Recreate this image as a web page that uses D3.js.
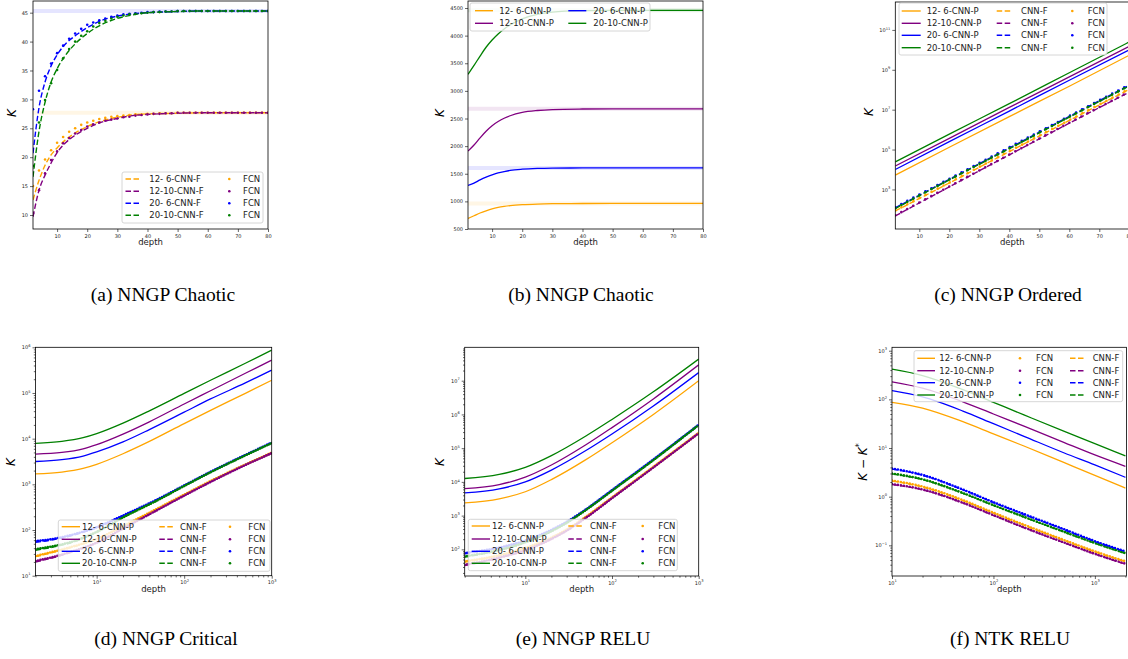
<!DOCTYPE html>
<html>
<head>
<meta charset="utf-8">
<script src="https://cdn.jsdelivr.net/npm/d3@7"></script>
<style>
  body { margin: 0; background: #fff; }
  svg { font-family: "DejaVu Sans", sans-serif; }
</style>
</head>
<body>
<div id="chart"></div>
<script>
// ---------- data ----------
const seriesNames = ["12- 6", "12-10", "20- 6", "20-10"];
const seriesColors = ["#ffa500", "#800080", "#0000ff", "#008000"];

// (a) NNGP chaotic, CNN-F dashed + FCN dots
const depthA = [2, 4, 6, 8, 10, 13, 16, 20, 25, 30, 35, 40, 50, 60, 80];
const aCnnF = [
  [12.6, 16.0, 18.6, 20.4, 21.6, 23.1, 24.2, 25.3, 26.3, 26.9, 27.3, 27.5, 27.6, 27.7, 27.7],
  [9.7, 14.3, 16.9, 19.0, 20.8, 22.6, 23.8, 25.0, 26.1, 26.7, 27.2, 27.4, 27.6, 27.7, 27.7],
  [20.7, 28.6, 33.0, 35.8, 37.7, 39.7, 41.0, 42.4, 43.7, 44.4, 44.8, 45.0, 45.2, 45.3, 45.3],
  [16.6, 24.5, 29.5, 33.0, 35.3, 37.8, 39.6, 41.4, 43.0, 44.0, 44.6, 45.0, 45.2, 45.3, 45.3]
];
const depthAFcn = d3.range(2, 81, 2);
const aFcn = [
  [15.0, 17.7, 19.6, 21.2, 22.5, 23.5, 24.4, 25.0, 25.6, 26.0, 26.3, 26.6, 26.8, 27.0, 27.1, 27.2, 27.3, 27.4, 27.4, 27.5,
   27.5, 27.6, 27.6, 27.6, 27.7, 27.7, 27.7, 27.7, 27.7, 27.7, 27.7, 27.7, 27.7, 27.7, 27.7, 27.7, 27.7, 27.7, 27.7, 27.7],
  [10.3, 14.3, 17.2, 19.5, 21.0, 22.4, 23.3, 24.1, 24.7, 25.3, 25.7, 26.0, 26.3, 26.5, 26.7, 26.9, 27.0, 27.2, 27.3, 27.4,
   27.5, 27.5, 27.6, 27.6, 27.7, 27.7, 27.7, 27.7, 27.7, 27.7, 27.7, 27.7, 27.7, 27.7, 27.7, 27.7, 27.7, 27.7, 27.7, 27.7],
  [28.3, 31.5, 34.0, 36.2, 38.0, 39.3, 40.5, 41.4, 42.2, 42.9, 43.3, 43.7, 44.0, 44.3, 44.5, 44.7, 44.8, 44.9, 45.0, 45.1,
   45.1, 45.2, 45.2, 45.2, 45.3, 45.3, 45.3, 45.3, 45.3, 45.3, 45.3, 45.3, 45.3, 45.3, 45.3, 45.3, 45.3, 45.3, 45.3, 45.3],
  [18.5, 26.0, 29.9, 32.8, 35.1, 37.1, 38.7, 40.0, 41.0, 41.8, 42.6, 43.2, 43.6, 44.0, 44.3, 44.5, 44.7, 44.8, 44.9, 45.0,
   45.1, 45.1, 45.2, 45.2, 45.3, 45.3, 45.3, 45.3, 45.3, 45.3, 45.3, 45.3, 45.3, 45.3, 45.3, 45.3, 45.3, 45.3, 45.3, 45.3]
];
// fixed points (null = not drawn)
const aFixed = [27.7, null, 45.3, null];

// (b) NNGP chaotic, CNN-P
const depthB = [2, 4, 6, 8, 10, 12, 14, 16, 20, 25, 30, 40, 50, 80];
const bCnnP = [
  [690, 740, 790, 830, 865, 890, 908, 922, 940, 952, 958, 962, 963, 963],
  [1910, 2020, 2150, 2270, 2370, 2445, 2505, 2550, 2610, 2645, 2662, 2672, 2675, 2675],
  [1290, 1330, 1390, 1440, 1480, 1515, 1540, 1560, 1582, 1596, 1602, 1605, 1605, 1605],
  [3300, 3460, 3630, 3790, 3920, 4030, 4120, 4195, 4305, 4385, 4425, 4452, 4458, 4458]
];
const bFixed = [963, 2675, 1605, 4458];

// (c) NNGP ordered
const depthC = [2, 20, 40, 60, 80];
const cCnnP = [
  [5.2e3, 1.3e5, 4.5e6, 1.5e8, 5.4e9],
  [1.5e4, 3.6e5, 1.3e7, 4.4e8, 1.5e10],
  [1.0e4, 2.5e5, 8.5e6, 3.0e8, 1.0e10],
  [2.4e4, 5.9e5, 2.0e7, 7.1e8, 2.5e10]
];
const cCnnF = [
  [83, 2.1e3, 7.9e4, 2.9e6, 1.05e8],
  [47, 1.35e3, 5.4e4, 2.1e6, 7.6e7],
  [120, 3.2e3, 1.2e5, 4.6e6, 1.7e8],
  [110, 3.0e3, 1.1e5, 4.2e6, 1.55e8]
];
const cFcn = [
  [88, 2.2e3, 8.2e4, 3.0e6, 1.1e8],
  [50, 1.4e3, 5.6e4, 2.2e6, 7.9e7],
  [130, 3.4e3, 1.3e5, 4.8e6, 1.8e8],
  [115, 3.1e3, 1.15e5, 4.4e6, 1.6e8]
];

// (d) NNGP critical
const depthDP = [2, 4, 7, 10, 20, 40, 100, 200, 500, 1000];
const dCnnP = [
  [1.7e3, 1.86e3, 2.24e3, 2.75e3, 4.68e3, 8.7e3, 2.14e4, 4.17e4, 9.8e4, 1.9e5],
  [4.6e3, 5.0e3, 6.0e3, 7.4e3, 1.26e4, 2.34e4, 5.75e4, 1.12e5, 2.7e5, 5.25e5],
  [3.16e3, 3.47e3, 4.17e3, 5.13e3, 8.5e3, 1.58e4, 3.8e4, 7.4e4, 1.66e5, 3.16e5],
  [7.9e3, 8.7e3, 1.05e4, 1.29e4, 2.19e4, 4.07e4, 9.8e4, 1.9e5, 4.47e5, 8.7e5]
];
const depthDF = [2, 3.5, 5, 10, 20, 50, 100, 200, 500, 1000];
const dCnnF = [
  [26, 34, 41, 63, 120, 295, 589, 1.17e3, 2.69e3, 4.9e3],
  [20, 26, 32, 52, 107, 275, 562, 1.12e3, 2.63e3, 4.79e3],
  [54, 63, 74, 112, 204, 468, 933, 1.86e3, 4.37e3, 8.13e3],
  [36, 44, 52, 89, 186, 447, 912, 1.82e3, 4.27e3, 7.94e3]
];
const dFcn = [
  [27, 35, 42, 64, 122, 298, 595, 1.18e3, 2.71e3, 4.95e3],
  [21, 27, 33, 53, 108, 278, 566, 1.13e3, 2.65e3, 4.82e3],
  [57, 66, 77, 115, 208, 475, 945, 1.88e3, 4.4e3, 8.2e3],
  [38, 46, 54, 91, 189, 452, 920, 1.84e3, 4.3e3, 8.0e3]
];

// (e) NNGP RELU
const depthEP = [2, 5, 10, 20, 50, 100, 300, 1000];
const eCnnP = [
  [2.4e3, 3.16e3, 5.1e3, 1.17e4, 4.57e4, 1.45e5, 1.0e6, 1.0e7],
  [6.3e3, 8.3e3, 1.38e4, 3.16e4, 1.26e5, 4.07e5, 2.88e6, 2.95e7],
  [4.7e3, 6.2e3, 1.0e4, 2.24e4, 8.5e4, 2.63e5, 1.78e6, 1.74e7],
  [1.26e4, 1.66e4, 2.69e4, 6.0e4, 2.29e5, 7.1e5, 4.68e6, 4.37e7]
];
const depthEF = [2, 5, 10, 20, 30, 50, 100, 300, 1000];
const eCnnF = [
  [42, 65, 107, 219, 380, 912, 3.39e3, 2.75e4, 2.8e5],
  [33, 55, 93, 200, 355, 851, 3.24e3, 2.63e4, 2.75e5],
  [74, 110, 178, 372, 646, 1.51e3, 5.6e3, 4.57e4, 4.9e5],
  [59, 93, 158, 339, 603, 1.45e3, 5.4e3, 4.37e4, 4.8e5]
];
const eFcn = [
  [44, 67, 110, 223, 385, 925, 3.44e3, 2.78e4, 2.82e5],
  [35, 57, 95, 204, 360, 862, 3.28e3, 2.66e4, 2.77e5],
  [78, 113, 182, 378, 655, 1.53e3, 5.7e3, 4.62e4, 4.95e5],
  [62, 96, 162, 345, 610, 1.47e3, 5.46e3, 4.42e4, 4.85e5]
];

// (f) NTK RELU
const depthF = [10, 20, 50, 100, 200, 500, 1000, 2000];
const fCnnP = [
  [87, 66, 34.7, 19.5, 11.0, 5.0, 2.75, 1.5],
  [229, 170, 89, 50, 28.2, 12.9, 7.2, 4.2],
  [151, 112, 57.5, 31.6, 17.4, 7.9, 4.5, 2.5],
  [417, 309, 158, 87, 47.9, 21.9, 12.3, 6.9]
];
const fCnnF = [
  [2.1, 1.58, 0.83, 0.46, 0.26, 0.126, 0.074, 0.046],
  [1.78, 1.38, 0.74, 0.41, 0.23, 0.112, 0.066, 0.041],
  [3.7, 2.75, 1.38, 0.76, 0.43, 0.21, 0.12, 0.074],
  [2.95, 2.24, 1.17, 0.66, 0.38, 0.186, 0.11, 0.068]
];
const fFcn = [
  [2.15, 1.62, 0.85, 0.47, 0.265, 0.128, 0.075, 0.047],
  [1.82, 1.41, 0.75, 0.42, 0.234, 0.114, 0.067, 0.042],
  [3.8, 2.8, 1.4, 0.77, 0.44, 0.213, 0.122, 0.075],
  [3.0, 2.28, 1.19, 0.67, 0.386, 0.189, 0.112, 0.069]
];

// ---------- drawing ----------
const svg = d3.select("#chart").append("svg")
  .attr("width", 1128).attr("height", 659);

const supDigits = n => String(n).replace("-", "\u2212");

function logMinors(dom) {
  const minors = [];
  const lo = Math.floor(Math.log10(dom[0])), hi = Math.ceil(Math.log10(dom[1]));
  for (let e = lo; e <= hi; e++) for (let k = 2; k <= 9; k++) {
    const v = k * Math.pow(10, e);
    if (v >= dom[0] && v <= dom[1]) minors.push(v);
  }
  return minors;
}

function panel(cfg) {
  const x = (cfg.xlog ? d3.scaleLog() : d3.scaleLinear()).domain(cfg.xdom).range([cfg.l, cfg.r]);
  const y = (cfg.ylog ? d3.scaleLog() : d3.scaleLinear()).domain(cfg.ydom).range([cfg.b, cfg.t]);
  const g = svg.append("g");

  g.append("clipPath").attr("id", "clip-" + cfg.id)
    .append("rect")
    .attr("x", cfg.l).attr("y", cfg.t)
    .attr("width", cfg.r - cfg.l).attr("height", cfg.b - cfg.t);
  const plot = g.append("g").attr("clip-path", `url(#clip-${cfg.id})`);

  const line = d3.line().x(d => x(d[0])).y(d => y(d[1])).curve(d3.curveMonotoneX);

  // faint fixed-point lines
  (cfg.fixed || []).forEach((v, i) => {
    if (v == null) return;
    plot.append("line")
      .attr("x1", cfg.l).attr("x2", cfg.r)
      .attr("y1", y(v)).attr("y2", y(v))
      .attr("stroke", seriesColors[i]).attr("stroke-width", 4)
      .attr("stroke-opacity", 0.1);
  });

  cfg.layers.forEach(layer => {
    layer.vals.forEach((vals, i) => {
      const pts = layer.xs.map((d, j) => [d, vals[j]]);
      if (layer.style === "dots") {
        plot.selectAll(null).data(pts).join("circle")
          .attr("cx", d => x(d[0])).attr("cy", d => y(d[1]))
          .attr("r", 1.3).attr("fill", seriesColors[i]);
        return;
      }
      const p = plot.append("path").datum(pts)
        .attr("d", line).attr("fill", "none")
        .attr("stroke", seriesColors[i]);
      if (layer.style === "solid") p.attr("stroke-width", 1.3);
      if (layer.style === "dash") p.attr("stroke-width", 1.4).attr("stroke-dasharray", "5.5,2.5");
      if (layer.style === "dotline") p.attr("stroke-width", 2.6)
        .attr("stroke-linecap", "round").attr("stroke-dasharray", `0,${layer.gap}`);
    });
  });

  // axes
  const fmtLog = function (sel) {
    sel.selectAll(".tick text").each(function (d) {
      const t = d3.select(this);
      const e = Math.round(Math.log10(d));
      t.text("10");
      t.append("tspan").attr("dy", -2.4).attr("font-size", 3.6).text(supDigits(e));
    });
  };
  const styleAxis = sel => {
    sel.select(".domain").remove();
    sel.selectAll(".tick line").attr("stroke", "#000").attr("stroke-width", 0.6);
    sel.selectAll(".tick text").attr("font-size", 5).attr("fill", "#222")
      .attr("font-family", "DejaVu Sans");
  };

  const xa = d3.axisBottom(x).tickValues(cfg.xticks).tickSize(3).tickPadding(2)
    .tickFormat(cfg.xlog ? d => d : d3.format("d"));
  const gx = g.append("g").attr("transform", `translate(0,${cfg.b})`).call(xa).call(styleAxis);
  if (cfg.xlog) {
    gx.call(fmtLog);
    g.append("g").attr("transform", `translate(0,${cfg.b})`)
      .call(d3.axisBottom(x).tickValues(logMinors(cfg.xdom)).tickSize(1.7).tickFormat(""))
      .call(styleAxis);
  }

  const ya = d3.axisLeft(y).tickValues(cfg.yticks).tickSize(3).tickPadding(2)
    .tickFormat(cfg.ylog ? d => d : d3.format("d"));
  const gy = g.append("g").attr("transform", `translate(${cfg.l},0)`).call(ya).call(styleAxis);
  if (cfg.ylog) {
    gy.call(fmtLog);
    if (cfg.yminor) {
      g.append("g").attr("transform", `translate(${cfg.l},0)`)
        .call(d3.axisLeft(y).tickValues(logMinors(cfg.ydom)).tickSize(1.7).tickFormat(""))
        .call(styleAxis);
    }
  }

  // frame
  g.append("rect")
    .attr("x", cfg.l).attr("y", cfg.t)
    .attr("width", cfg.r - cfg.l).attr("height", cfg.b - cfg.t)
    .attr("fill", "none").attr("stroke", "#000").attr("stroke-width", 0.8);

  // labels
  g.append("text")
    .attr("x", (cfg.l + cfg.r) / 2).attr("y", cfg.b + 16)
    .attr("text-anchor", "middle").attr("font-size", 8.5).attr("fill", "#222")
    .text("depth");
  const yl = g.append("text")
    .attr("transform", `translate(${cfg.ylx},${cfg.yly}) rotate(-90)`)
    .attr("text-anchor", "middle").attr("font-size", 12).attr("font-style", "italic");
  if (cfg.ydiff) {
    yl.append("tspan").text("K \u2212 K");
    yl.append("tspan").attr("dy", -5).attr("font-size", 8).attr("font-style", "normal").text("*");
  } else {
    yl.text("K");
  }

  // caption
  svg.append("text")
    .attr("x", cfg.capX).attr("y", cfg.capY)
    .attr("text-anchor", "middle")
    .attr("font-family", "Liberation Serif, Times New Roman, serif")
    .attr("font-size", 19.5)
    .text(cfg.caption);

  if (cfg.legend) legend(cfg.legend);
}

function legend(lg) {
  const g = svg.append("g");
  g.append("rect")
    .attr("x", lg.x).attr("y", lg.y).attr("width", lg.w).attr("height", lg.h)
    .attr("rx", 2).attr("fill", "#fff").attr("fill-opacity", 0.8)
    .attr("stroke", "#ccc").attr("stroke-width", 0.8);
  lg.cols.forEach(col => {
    col.labels.forEach((lab, i) => {
      const yy = lg.rows[i];
      const c = seriesColors[col.colorIdx[i]];
      if (col.style === "dots") {
        g.append("circle").attr("cx", col.hx).attr("cy", yy).attr("r", 1.3).attr("fill", c);
      } else {
        const ln = g.append("line")
          .attr("x1", col.hx).attr("x2", col.hx + col.hw)
          .attr("y1", yy).attr("y2", yy)
          .attr("stroke", c).attr("stroke-width", 1.4);
        if (col.style === "dash") ln.attr("stroke-dasharray", "5.5,2.5");
      }
      g.append("text")
        .attr("x", col.tx).attr("y", yy).attr("dy", "0.35em")
        .attr("font-size", 8.5).attr("fill", "#222")
        .text(lab);
    });
  });
}

const idx = [0, 1, 2, 3];
const labP = seriesNames.map(s => s + "-CNN-P");
const labF = seriesNames.map(s => s + "-CNN-F");
const justF = idx.map(() => "CNN-F");
const justFcn = idx.map(() => "FCN");

// (a)
panel({
  id: "a", l: 33, r: 268, t: 1, b: 229,
  xdom: [2, 80], ydom: [7.58, 47.02],
  xticks: [10, 20, 30, 40, 50, 60, 70, 80], yticks: [10, 15, 20, 25, 30, 35, 40, 45],
  fixed: aFixed,
  layers: [
    { xs: depthA, vals: aCnnF, style: "dash" },
    { xs: depthAFcn, vals: aFcn, style: "dots" }
  ],
  ylx: 16, yly: 113, capX: 163, capY: 301, caption: "(a) NNGP Chaotic",
  legend: {
    x: 122, y: 172, w: 141, h: 51, rows: [179, 191.3, 203.3, 215.3],
    cols: [
      { style: "dash", hx: 125.5, hw: 16, tx: 149.3, labels: labF, colorIdx: idx },
      { style: "dots", hx: 229.3, tx: 243, labels: justFcn, colorIdx: idx }
    ]
  }
});

// (b)
panel({
  id: "b", l: 468, r: 703, t: 1, b: 229,
  xdom: [2, 80], ydom: [500, 4627],
  xticks: [10, 20, 30, 40, 50, 60, 70, 80],
  yticks: [500, 1000, 1500, 2000, 2500, 3000, 3500, 4000, 4500],
  fixed: bFixed,
  layers: [{ xs: depthB, vals: bCnnP, style: "solid" }],
  ylx: 444, yly: 113, capX: 581, capY: 301, caption: "(b) NNGP Chaotic",
  legend: {
    x: 470, y: 3, w: 180, h: 28, rows: [10.7, 23.3],
    cols: [
      { style: "solid", hx: 475, hw: 18, tx: 499.3, labels: [labP[0], labP[1]], colorIdx: [0, 1] },
      { style: "solid", hx: 568.3, hw: 18, tx: 593.3, labels: [labP[2], labP[3]], colorIdx: [2, 3] }
    ]
  }
});

// (c)
panel({
  id: "c", l: 895.3, r: 1129.3, t: 2, b: 229,
  xdom: [2, 80], ylog: true, ydom: [Math.pow(10, 1.015), Math.pow(10, 12.4)],
  xticks: [10, 20, 30, 40, 50, 60, 70, 80], yticks: [1e3, 1e5, 1e7, 1e9, 1e11],
  layers: [
    { xs: depthC, vals: cCnnP, style: "solid" },
    { xs: depthC, vals: cCnnF, style: "dash" },
    { xs: depthC, vals: cFcn, style: "dotline", gap: 6.8 }
  ],
  ylx: 873, yly: 112, capX: 1008, capY: 301, caption: "(c) NNGP Ordered",
  legend: {
    x: 899, y: 3, w: 208, h: 52, rows: [11, 23.3, 35.3, 47.7],
    cols: [
      { style: "solid", hx: 901.7, hw: 19, tx: 926.7, labels: labP, colorIdx: idx },
      { style: "dash", hx: 996.7, hw: 15, tx: 1021, labels: justF, colorIdx: idx },
      { style: "dots", hx: 1072.3, tx: 1087.7, labels: justFcn, colorIdx: idx }
    ]
  }
});

// (d)
panel({
  id: "d", l: 35.5, r: 271.7, t: 347.3, b: 575.7,
  xlog: true, xdom: [2, 1000], ylog: true, ydom: [10, 1e6], yminor: true,
  xticks: [10, 100, 1000], yticks: [10, 100, 1e3, 1e4, 1e5, 1e6],
  layers: [
    { xs: depthDP, vals: dCnnP, style: "solid" },
    { xs: depthDF, vals: dCnnF, style: "dash" },
    { xs: depthDF, vals: dFcn, style: "dotline", gap: 2.5 }
  ],
  ylx: 15, yly: 462, capX: 166, capY: 645, caption: "(d) NNGP Critical",
  legend: {
    x: 58.3, y: 520, w: 211.7, h: 51.3, rows: [526.7, 539.3, 551.3, 563.3],
    cols: [
      { style: "solid", hx: 61.7, hw: 18.3, tx: 82, labels: labP, colorIdx: idx },
      { style: "dash", hx: 159.3, hw: 15.7, tx: 180, labels: justF, colorIdx: idx },
      { style: "dots", hx: 230, tx: 248.3, labels: justFcn, colorIdx: idx }
    ]
  }
});

// (e)
panel({
  id: "e", l: 464.7, r: 698.7, t: 347.3, b: 576,
  xlog: true, xdom: [2, 1000], ylog: true, ydom: [Math.pow(10, 1.21), Math.pow(10, 7.99)], yminor: true,
  xticks: [10, 100, 1000], yticks: [100, 1e3, 1e4, 1e5, 1e6, 1e7],
  layers: [
    { xs: depthEP, vals: eCnnP, style: "solid" },
    { xs: depthEF, vals: eCnnF, style: "dash" },
    { xs: depthEF, vals: eFcn, style: "dotline", gap: 2.5 }
  ],
  ylx: 444, yly: 462, capX: 583, capY: 645, caption: "(e) NNGP RELU",
  legend: {
    x: 468.3, y: 519.3, w: 209, h: 51.4, rows: [526, 539, 551.3, 563.3],
    cols: [
      { style: "solid", hx: 471.7, hw: 18.3, tx: 492, labels: labP, colorIdx: idx },
      { style: "dash", hx: 568.3, hw: 15, tx: 590, labels: justF, colorIdx: idx },
      { style: "dots", hx: 642.7, tx: 658.3, labels: justFcn, colorIdx: idx }
    ]
  }
});

// (f)
panel({
  id: "f", l: 892, r: 1126.5, t: 347.3, b: 576,
  xlog: true, xdom: [10, 2050], ylog: true, ydom: [Math.pow(10, -1.63), Math.pow(10, 3.07)], yminor: true,
  xticks: [10, 100, 1000], yticks: [0.1, 1, 10, 100, 1000],
  layers: [
    { xs: depthF, vals: fCnnP, style: "solid" },
    { xs: depthF, vals: fFcn, style: "dotline", gap: 3 },
    { xs: depthF, vals: fCnnF, style: "dash" }
  ],
  ydiff: true, ylx: 867, yly: 462, capX: 1010, capY: 645, caption: "(f) NTK RELU",
  legend: {
    x: 914, y: 350.7, w: 208.7, h: 51, rows: [358.3, 370.7, 382.7, 395],
    cols: [
      { style: "solid", hx: 917.3, hw: 17.7, tx: 939.3, labels: labP, colorIdx: idx },
      { style: "dots", hx: 1020, tx: 1036, labels: justFcn, colorIdx: idx },
      { style: "dash", hx: 1070, hw: 15, tx: 1092.7, labels: justF, colorIdx: idx }
    ]
  }
});
</script>
</body>
</html>
